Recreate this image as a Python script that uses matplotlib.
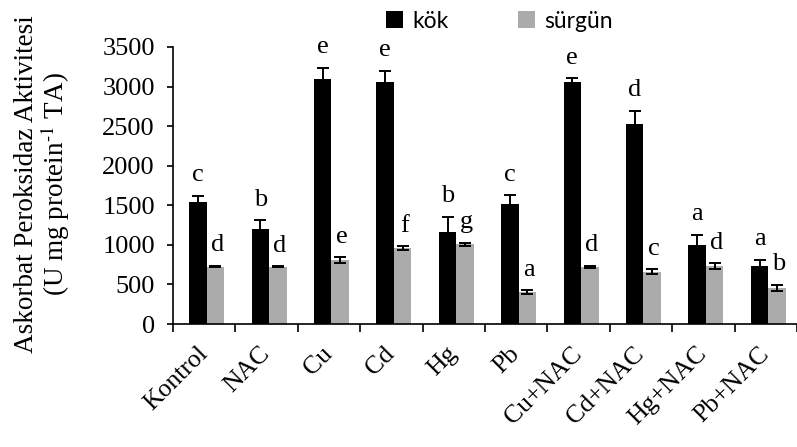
import numpy as np
import matplotlib
matplotlib.use("Agg")
import matplotlib.pyplot as plt

# gruplar ve ölçülen APX aktiviteleri
gruplar = ["Kontrol", "NAC", "Cu", "Cd", "Hg", "Pb", "Cu+NAC", "Cd+NAC", "Hg+NAC", "Pb+NAC"]
kok = [1540, 1200, 3100, 3060, 1165, 1515, 3055, 2530, 1000, 735]
kok_hata = [80, 110, 140, 140, 190, 110, 50, 165, 125, 75]
surgun = [725, 725, 810, 960, 1010, 405, 720, 660, 735, 455]
surgun_hata = [10, 6, 35, 20, 20, 25, 15, 30, 35, 40]
kok_harf = ["c", "b", "e", "e", "b", "c", "e", "d", "a", "a"]
surgun_harf = ["d", "d", "e", "f", "g", "a", "d", "c", "d", "b"]

plt.rcParams["font.family"] = ["Liberation Serif", "DejaVu Serif"]
plt.rcParams["mathtext.fontset"] = "stix"

fig = plt.figure(figsize=(7.97, 4.47), dpi=100)
ax = fig.add_axes([0.217, 0.275, 0.783, 0.62])

x = np.arange(1, len(gruplar) + 1)
w = 0.28
kay = 0.04
hata_stil = dict(ecolor="black", elinewidth=1.4, capsize=4.5, capthick=1.4)
ax.bar(x + kay - w / 2, kok, w, color="black", yerr=kok_hata, error_kw=hata_stil, label="kök")
ax.bar(x + kay + w / 2, surgun, w, color="#ababab", yerr=surgun_hata, error_kw=hata_stil, label="sürgün")

# harfler
for i in range(len(gruplar)):
    ax.text(x[i] + kay - w / 2, kok[i] + kok_hata[i] + 120, kok_harf[i],
            ha="center", va="bottom", fontsize=19)
    ax.text(x[i] + kay + w / 2 + 0.03, surgun[i] + surgun_hata[i] + 120, surgun_harf[i],
            ha="center", va="bottom", fontsize=19)

ax.set_xlim(0.5, 10.5)
ax.set_ylim(0, 3500)
ax.set_yticks(range(0, 3501, 500))
ax.tick_params(axis="y", labelsize=19, direction="out", length=4, width=1.2, pad=9)

ax.set_xticks(np.arange(0.5, 10.6, 1))
ax.set_xticklabels([])
ax.tick_params(axis="x", which="major", direction="out", length=6, width=1.2)
ax.set_xticks(x, minor=True)
ax.set_xticklabels(gruplar, minor=True, rotation=45, ha="right", va="center",
                   rotation_mode="anchor", fontsize=18.5)
ax.tick_params(axis="x", which="minor", length=0, pad=19)

for s in ["top", "right"]:
    ax.spines[s].set_visible(False)
ax.spines["left"].set_linewidth(1.2)
ax.spines["bottom"].set_linewidth(1.2)

fig.text(43 / 797, 1 - 184 / 447, "Askorbat Peroksidaz Aktivitesi\n(U mg protein$^{\\text{-1}}$ TA)",
         rotation=90, ha="center", va="center", ma="center", fontsize=19.5, linespacing=1.0)

leg = ax.legend(loc="upper center", bbox_to_anchor=(0.523, 1.205), ncol=2, frameon=False,
                prop={"family": "Lato", "size": 16.5}, handlelength=0.75, handleheight=0.75,
                columnspacing=3.0, handletextpad=0.4)

fig.savefig("out.png", dpi=100)
